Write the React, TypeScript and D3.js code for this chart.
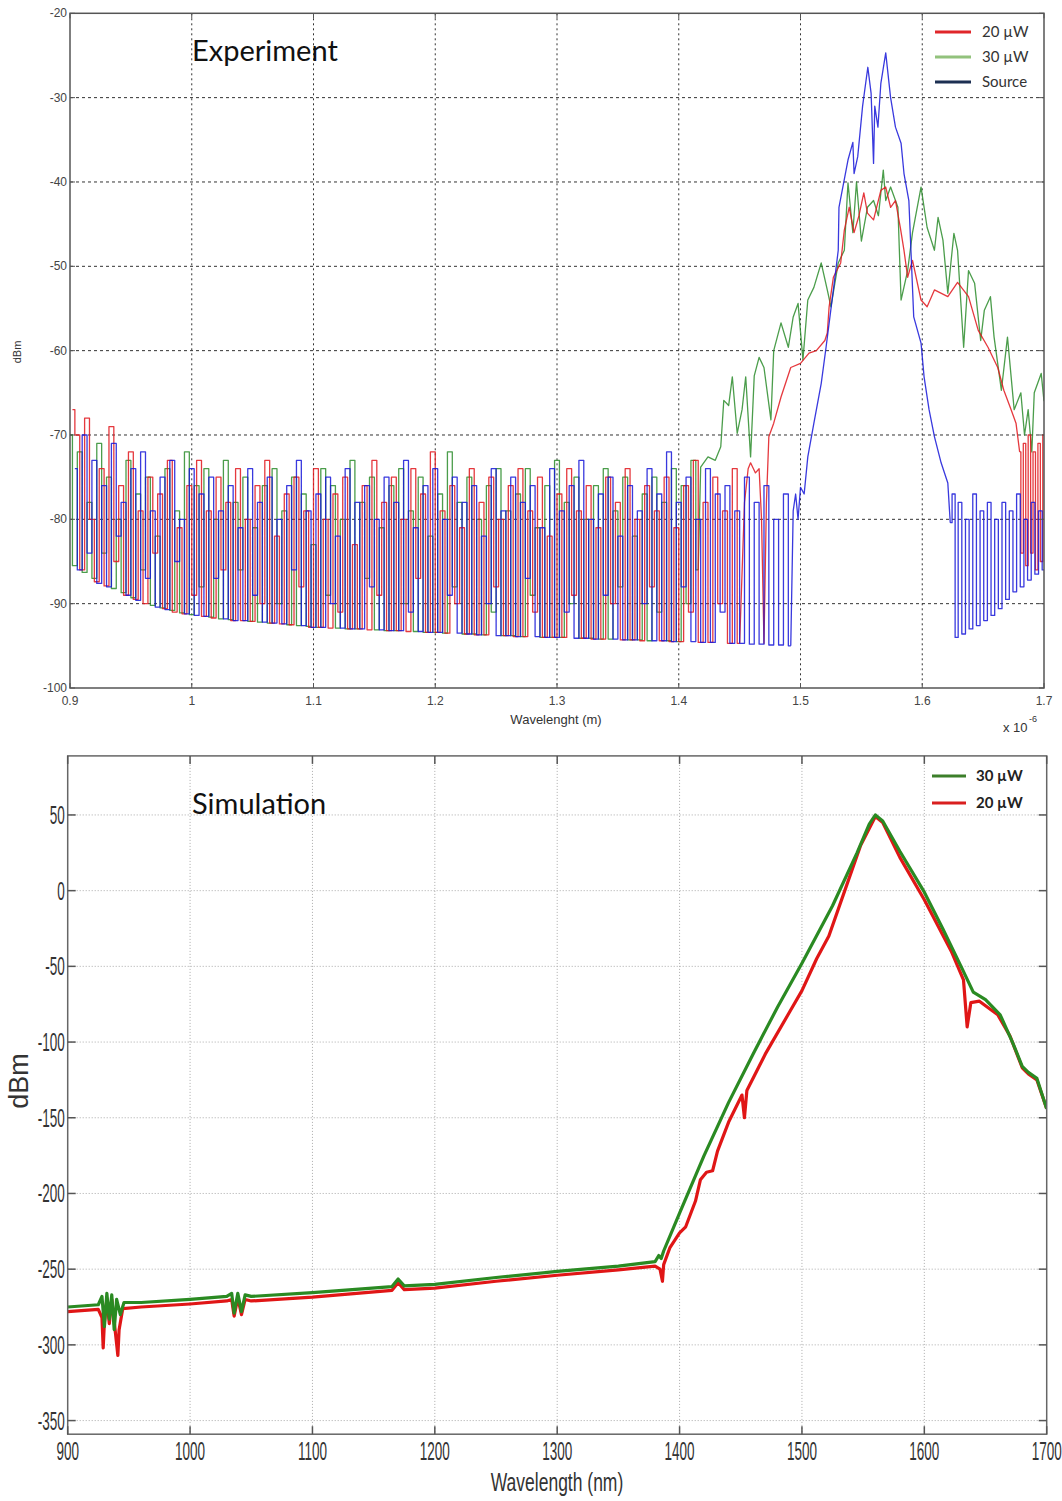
import React from 'react'
import * as d3 from 'd3'

// ---- Experiment (OSA trace, wavelength in um) ----
// noise floor part is sampled on a regular grid, the rest is [wavelength, dBm]
const NOISE_STEP = 0.004

const green30NoiseStart = 0.9
const green30Noise = [
  -70, -85.5, -72, -86.3, -78, -87, -71, -84, -75, -88.2,
  -80, -88.7, -73, -89.3, -77, -86, -75, -90.2, -82, -90.5,
  -74, -90.8, -79, -91.1, -72, -91.3, -76, -88, -74, -91.6,
  -80, -91.8, -73, -91.9, -78, -86, -75, -92.1, -81, -92.2,
  -76, -92.3, -74, -90, -79, -92.5, -75, -92.6, -77, -92.7,
  -83, -92.8, -74, -89, -76, -92.9, -80, -93, -73, -93,
  -78, -87, -75, -93.1, -81, -93.2, -76, -93.2, -74, -90,
  -79, -93.3, -75, -93.4, -82, -93.4, -77, -93.5, -72, -88,
  -78, -93.6, -75, -93.6, -80, -93.7, -76, -91, -74, -93.8,
  -79, -93.8, -77, -93.9, -74, -89, -81, -94, -76, -94,
  -73, -94, -78, -90, -75, -94.1, -80, -94.1, -76, -94.2,
  -74, -94.2, -79, -88, -75, -94.3, -82, -94.3, -77, -94.4,
  -75, -91, -78, -94.4, -74, -94.5, -76, -90, -73, -86
]
const green30Peak = [
  [1.418, -73.8], [1.424, -72.6], [1.43, -73], [1.4345, -71.4], [1.437, -65.9], [1.441, -66.5],
  [1.444, -63.1], [1.448, -69.8], [1.452, -67], [1.455, -63.1], [1.459, -72.6], [1.462, -63],
  [1.466, -60.8], [1.47, -62], [1.4757, -68.2], [1.478, -60], [1.484, -56.7], [1.49, -59.6],
  [1.494, -56], [1.498, -54.4], [1.502, -61.1], [1.506, -54], [1.511, -52.5], [1.517, -49.6],
  [1.522, -52.8], [1.525, -54.8], [1.531, -49.6], [1.536, -48.1], [1.539, -40.1], [1.543, -46],
  [1.546, -40], [1.55, -47], [1.555, -43], [1.56, -42.2], [1.564, -44], [1.568, -38.6],
  [1.57, -42.2], [1.574, -40.6], [1.58, -43], [1.5826, -54], [1.588, -50.5], [1.592, -46],
  [1.595, -43.7], [1.599, -40.6], [1.604, -45.4], [1.61, -48.1], [1.613, -44.2], [1.617, -46.9],
  [1.621, -53.2], [1.626, -46.1], [1.629, -48.1], [1.634, -59.6], [1.638, -50.5], [1.643, -52],
  [1.648, -58.8], [1.651, -55.2], [1.656, -53.6], [1.659, -58.4], [1.665, -64.7], [1.67, -58.4],
  [1.6755, -67], [1.681, -65], [1.684, -70], [1.687, -67], [1.69, -72], [1.692, -65],
  [1.6977, -62.7], [1.7, -66]
]
const green30Tail = []

const red20NoiseStart = 0.902
const red20Noise = [
  -67, -70, -86, -68, -80, -87.4, -74, -87.9, -69, -85,
  -76, -89, -72, -89.5, -79, -90, -75, -84, -77, -90.6,
  -73, -91, -81, -91.2, -76, -89, -73, -91.5, -79, -91.7,
  -75, -86, -78, -92, -74, -92, -80, -92.1, -76, -90,
  -73, -92.3, -82, -92.4, -77, -92.5, -75, -88, -79, -92.8,
  -74, -92.8, -80, -92.9, -77, -91, -75, -93, -83, -93,
  -76, -93.1, -73, -89, -78, -93.2, -75, -93.2, -80, -93.3,
  -74, -87, -77, -93.4, -72, -93.4, -79, -93.5, -76, -90,
  -81, -93.6, -74, -93.7, -78, -93.7, -75, -88, -80, -93.8,
  -76, -93.9, -74, -93.9, -79, -91, -75, -94, -82, -94,
  -77, -94, -74, -89, -79, -94.1, -76, -94.2, -81, -94.2,
  -75, -90, -78, -94.3, -74, -94.3, -80, -94.4, -76, -88,
  -79, -94.4, -75, -94.5, -81, -94.5, -76, -91, -73, -94.6,
  -78, -94.6, -75, -90, -79, -94.7, -74, -94.7
]
const red20Peak = [
  [1.454, -78], [1.457, -74], [1.459, -73.3], [1.463, -74.5], [1.466, -74], [1.468, -80],
  [1.47, -94.7], [1.472, -78], [1.474, -70.2], [1.478, -68.6], [1.484, -65.5], [1.492, -62],
  [1.5, -61.5], [1.507, -60.3], [1.513, -60], [1.52, -58.8], [1.522, -57.9], [1.5235, -54.8],
  [1.527, -51.3], [1.533, -49.6], [1.536, -45.7], [1.54, -43], [1.544, -46], [1.548, -44],
  [1.552, -41.3], [1.555, -43.7], [1.56, -44.5], [1.566, -41], [1.57, -40.6], [1.574, -43],
  [1.578, -42.2], [1.582, -45.4], [1.585, -48.1], [1.588, -51.3], [1.592, -49.3], [1.599, -54],
  [1.604, -54.8], [1.61, -52.8], [1.621, -53.6], [1.629, -51.9], [1.638, -53.6], [1.646, -57.6],
  [1.654, -59.6], [1.662, -62], [1.667, -64.7], [1.673, -67], [1.677, -68.6], [1.68, -72]
]
const red20Tail = [
  [1.682, -84], [1.684, -71], [1.686, -85.5], [1.688, -70], [1.69, -84], [1.692, -72],
  [1.694, -86], [1.696, -71], [1.698, -85], [1.7, -70]
]

const sourceNoiseStart = 0.904
const sourceNoise = [
  -74, -86, -70, -84, -73, -87.6, -76, -88, -71, -82,
  -78, -89, -74, -89.6, -72, -87, -79, -90.4, -75, -90.7,
  -73, -85, -80, -91.2, -74, -91.4, -77, -91.5, -75, -87,
  -79, -91.8, -76, -92, -81, -92, -74, -89, -78, -92.2,
  -75, -92.3, -80, -92.4, -76, -86, -73, -92.6, -79, -92.8,
  -77, -92.8, -75, -90, -82, -92.9, -74, -93, -78, -93,
  -76, -88, -80, -93.1, -75, -93.2, -78, -93.2, -73, -91,
  -81, -93.3, -76, -93.4, -74, -93.4, -80, -89, -75, -93.5,
  -78, -93.6, -76, -93.7, -82, -90, -74, -93.8, -79, -93.8,
  -75, -93.9, -78, -87, -76, -93.9, -81, -94, -74, -94,
  -79, -91, -76, -94.1, -73, -94.1, -80, -94.2, -77, -89,
  -75, -94.2, -82, -94.3, -76, -94.3, -79, -90, -74, -94.4,
  -77, -94.4, -72, -94.5, -78, -88, -75, -94.5, -80, -94.6,
  -74, -94.6, -77, -91, -76, -94.7, -79, -94.7, -75, -94.8,
  -78, -94.8, -76, -94.9, -80, -94.9, -77, -95
]
const sourcePeak = [
  [1.494, -79], [1.496, -77], [1.498, -80], [1.5, -76.2], [1.503, -77], [1.506, -72.6],
  [1.511, -68.6], [1.517, -63.9], [1.521, -59.6], [1.527, -52.8], [1.531, -48.1], [1.5316, -43],
  [1.539, -37.4], [1.543, -35.3], [1.544, -39], [1.547, -37], [1.551, -31], [1.5553, -26.4],
  [1.558, -29.5], [1.56, -37.8], [1.561, -31], [1.5636, -33.5], [1.566, -28.3], [1.57, -24.7],
  [1.574, -30], [1.578, -33.5], [1.5826, -35.4], [1.585, -39], [1.589, -42.2], [1.593, -56],
  [1.599, -59.1], [1.6015, -63.1], [1.6056, -67], [1.61, -70.2], [1.6155, -73.3], [1.621, -75.7],
  [1.623, -80.4]
]
const sourceTail = [
  [1.626, -77], [1.628, -94], [1.631, -78], [1.634, -93.6], [1.637, -80],
  [1.64, -93], [1.643, -77], [1.646, -92.6], [1.649, -79], [1.652, -92], [1.655, -78],
  [1.658, -91.4], [1.661, -80], [1.664, -90.6], [1.667, -78], [1.67, -89.5], [1.673, -79],
  [1.676, -88.6], [1.679, -77], [1.682, -88], [1.685, -80], [1.688, -87.2], [1.691, -78],
  [1.694, -86.5], [1.697, -79], [1.7, -86]
]

const expXTicks = [0.9, 1, 1.1, 1.2, 1.3, 1.4, 1.5, 1.6, 1.7]
const expYTicks = [-20, -30, -40, -50, -60, -70, -80, -90, -100]

// ---- Simulation (nm, dBm) ----
const simGreen30 = [
  [900, -275], [925, -273.5], [928, -268], [930, -288], [932, -266], [934, -283], [936, -267],
  [938, -290], [940, -270], [943, -280], [946, -272], [960, -272], [1000, -270], [1030, -268],
  [1034, -266], [1036, -279], [1039, -266], [1042, -278], [1045, -267], [1050, -268],
  [1100, -265.5], [1165, -261.5], [1170, -256.5], [1175, -261], [1200, -260], [1250, -255.5],
  [1300, -251.5], [1350, -248], [1380, -245], [1383, -241], [1385, -243], [1387, -238],
  [1400, -213], [1420, -175], [1440, -140], [1460, -108], [1480, -77], [1500, -48],
  [1525, -10], [1545, 25], [1555, 44], [1560, 50], [1566, 46], [1580, 26], [1600, -1],
  [1615, -25], [1630, -50], [1640, -67], [1650, -72], [1662, -82], [1672, -100], [1680, -116],
  [1685, -120], [1692, -124], [1700, -144]
]
const simRed20 = [
  [900, -278], [925, -276.5], [928, -282], [929, -302], [930, -285], [932, -270], [934, -286],
  [936, -270], [939, -292], [941, -307], [942, -290], [945, -276], [960, -275], [1000, -273],
  [1030, -271], [1034, -270], [1036, -281], [1039, -269], [1042, -280], [1045, -270],
  [1050, -271], [1100, -268.5], [1165, -264], [1170, -259], [1175, -263.5], [1200, -262.5],
  [1250, -258], [1300, -254], [1350, -250.5], [1380, -248], [1384, -250], [1386, -258],
  [1387, -247], [1392, -236], [1400, -226], [1405, -222], [1413, -205], [1417, -191],
  [1422, -186], [1427, -185], [1431, -172], [1440, -153], [1451, -135], [1453, -150],
  [1455, -132], [1470, -108], [1490, -80], [1500, -66], [1512, -45], [1522, -30], [1535, 0],
  [1548, 30], [1560, 49], [1566, 45], [1580, 22], [1600, -6], [1622, -40], [1632, -59],
  [1635, -90], [1638, -74], [1645, -73], [1660, -82], [1670, -96], [1680, -117], [1685, -121],
  [1692, -125], [1700, -144]
]

const simXTicks = [900, 1000, 1100, 1200, 1300, 1400, 1500, 1600, 1700]
const simYTicks = [50, 0, -50, -100, -150, -200, -250, -300, -350]

const W = 1062
const H = 1501

const expX = d3.scaleLinear().domain([0.9, 1.7]).range([70, 1044])
const expY = d3.scaleLinear().domain([-100, -20]).range([688, 13.3])
const simX = d3.scaleLinear().domain([900, 1700]).range([67.7, 1046.7])
const simY = d3.scaleLinear().domain([-359, 89]).range([1434.2, 755.9])

const noisePts = (start, values) => values.map((v, i) => [start + i * NOISE_STEP, v])

const expStep = d3.line().x(d => expX(d[0])).y(d => expY(d[1])).curve(d3.curveStep)
const expLine = d3.line().x(d => expX(d[0])).y(d => expY(d[1]))
const simLine = d3.line().x(d => simX(d[0])).y(d => simY(d[1]))

const expSeries = [
  { key: 'g', color: '#2c8c2c', start: green30NoiseStart, noise: green30Noise, peak: green30Peak, tail: green30Tail },
  { key: 'r', color: '#e0161c', start: red20NoiseStart, noise: red20Noise, peak: red20Peak, tail: red20Tail },
  { key: 'b', color: '#1616d8', start: sourceNoiseStart, noise: sourceNoise, peak: sourcePeak, tail: sourceTail }
]

const expLegend = [
  { label: '20 µW', color: '#e0262a' },
  { label: '30 µW', color: '#92c27c' },
  { label: 'Source', color: '#1c2f52' }
]
const simLegend = [
  { label: '30 µW', color: '#3c7f2a' },
  { label: '20 µW', color: '#d91f1f' }
]

const fmtExp = d => (d === 1 ? '1' : d3.format('.1f')(d))

function Experiment () {
  const [x0, x1] = expX.range()
  const [y1, y0] = expY.range()
  return (
    <g>
      <defs>
        <clipPath id='expClip'>
          <rect x={x0} y={y0} width={x1 - x0} height={y1 - y0} />
        </clipPath>
      </defs>
      {expYTicks.slice(1, -1).map(t => (
        <line key={'gy' + t} x1={x0} x2={x1} y1={expY(t)} y2={expY(t)}
          stroke='#333' strokeWidth={1} strokeDasharray='3,3' />
      ))}
      {expXTicks.slice(1, -1).map(t => (
        <line key={'gx' + t} x1={expX(t)} x2={expX(t)} y1={y0} y2={y1}
          stroke='#333' strokeWidth={1} strokeDasharray='2,3' />
      ))}
      <g clipPath='url(#expClip)' fill='none' strokeLinejoin='round'>
        {expSeries.map(s => {
          const pts = noisePts(s.start, s.noise)
          const lastPeak = s.peak[s.peak.length - 1]
          return (
            <g key={s.key} stroke={s.color} strokeWidth={1.3} strokeOpacity={0.85}>
              <path d={expStep(pts)} />
              <path d={expLine([pts[pts.length - 1], ...s.peak])} />
              {s.tail.length > 0 && <path d={expStep([lastPeak, ...s.tail])} />}
            </g>
          )
        })}
      </g>
      <rect x={x0} y={y0} width={x1 - x0} height={y1 - y0} fill='none' stroke='#555' strokeWidth={1.5} />
      {expYTicks.map(t => (
        <g key={'ty' + t}>
          <line x1={x0} x2={x0 + 5} y1={expY(t)} y2={expY(t)} stroke='#555' />
          <line x1={x1 - 5} x2={x1} y1={expY(t)} y2={expY(t)} stroke='#555' />
          <text x={x0 - 3} y={expY(t) + 4} textAnchor='end' fontSize={12} fill='#444'>{t}</text>
        </g>
      ))}
      {expXTicks.map(t => (
        <g key={'tx' + t}>
          <line x1={expX(t)} x2={expX(t)} y1={y1} y2={y1 - 5} stroke='#555' />
          <line x1={expX(t)} x2={expX(t)} y1={y0} y2={y0 + 5} stroke='#555' />
          <text x={expX(t)} y={705} textAnchor='middle' fontSize={12} fill='#444'>{fmtExp(t)}</text>
        </g>
      ))}
      <text x={556} y={724} textAnchor='middle' fontSize={13} fill='#333'>Wavelenght (m)</text>
      <text x={1003} y={732} fontSize={13} fill='#333'>x 10</text>
      <text x={1029} y={722} fontSize={9} fill='#333'>-6</text>
      <text transform='translate(21,352) rotate(-90)' textAnchor='middle' fontSize={11} fill='#333'>dBm</text>
      <text x={192} y={61} fontSize={29} fontFamily='Lato, sans-serif' fill='#111'>Experiment</text>
      {expLegend.map((l, i) => (
        <g key={l.label} transform={`translate(935,${32 + i * 25})`}>
          <line x1={0} x2={36} y1={0} y2={0} stroke={l.color} strokeWidth={3} />
          <text x={47} y={5} fontSize={15} fontFamily='Lato, sans-serif' fill='#333'>{l.label}</text>
        </g>
      ))}
    </g>
  )
}

function Simulation () {
  const [x0, x1] = simX.range()
  const [y1, y0] = simY.range()
  return (
    <g>
      <defs>
        <clipPath id='simClip'>
          <rect x={x0} y={y0} width={x1 - x0} height={y1 - y0} />
        </clipPath>
      </defs>
      {simYTicks.map(t => (
        <line key={'gy' + t} x1={x0} x2={x1} y1={simY(t)} y2={simY(t)}
          stroke='#aaa' strokeWidth={1} strokeDasharray='1,2' />
      ))}
      {simXTicks.slice(1, -1).map(t => (
        <line key={'gx' + t} x1={simX(t)} x2={simX(t)} y1={y0} y2={y1}
          stroke='#aaa' strokeWidth={1} strokeDasharray='1,2' />
      ))}
      <g clipPath='url(#simClip)' fill='none' strokeLinejoin='round'>
        <path d={simLine(simRed20)} stroke='#e01616' strokeWidth={3.2} />
        <path d={simLine(simGreen30)} stroke='#2a8a22' strokeWidth={3.2} />
      </g>
      <rect x={x0} y={y0} width={x1 - x0} height={y1 - y0} fill='none' stroke='#666' strokeWidth={1.5} />
      {simYTicks.map(t => (
        <g key={'ty' + t}>
          <line x1={x0} x2={x0 + 8} y1={simY(t)} y2={simY(t)} stroke='#555' strokeWidth={1.5} />
          <line x1={x1 - 8} x2={x1} y1={simY(t)} y2={simY(t)} stroke='#555' strokeWidth={1.5} />
          <text transform={`translate(${x0 - 3},${simY(t) + 9}) scale(0.52,1)`} textAnchor='end'
            fontSize={26} fill='#333'>{t}</text>
        </g>
      ))}
      {simXTicks.map(t => (
        <g key={'tx' + t}>
          <line x1={simX(t)} x2={simX(t)} y1={y1} y2={y1 - 8} stroke='#555' strokeWidth={1.5} />
          <line x1={simX(t)} x2={simX(t)} y1={y0} y2={y0 + 8} stroke='#555' strokeWidth={1.5} />
          <text transform={`translate(${simX(t)},1460) scale(0.52,1)`} textAnchor='middle'
            fontSize={26} fill='#333'>{t}</text>
        </g>
      ))}
      <text transform='translate(557,1491) scale(0.7,1)' textAnchor='middle' fontSize={25} fill='#333'>Wavelength (nm)</text>
      <text transform='translate(28,1081) rotate(-90)' textAnchor='middle' fontSize={27} fill='#333'>dBm</text>
      <text x={192} y={814} fontSize={29} fontFamily='Lato, sans-serif' fill='#111'>Simulation</text>
      {simLegend.map((l, i) => (
        <g key={l.label} transform={`translate(932,${776 + i * 27})`}>
          <line x1={0} x2={34} y1={0} y2={0} stroke={l.color} strokeWidth={3} />
          <text x={44} y={5} fontSize={15} fontWeight='bold' fontFamily='Lato, sans-serif' fill='#222'>{l.label}</text>
        </g>
      ))}
    </g>
  )
}

export default function App () {
  return (
    <svg width={W} height={H} viewBox={`0 0 ${W} ${H}`}
      style={{ position: 'absolute', left: 0, top: 0, background: '#fff' }}
      fontFamily='"Liberation Sans", Arial, sans-serif'>
      <rect width={W} height={H} fill='#fff' />
      <Experiment />
      <Simulation />
    </svg>
  )
}
